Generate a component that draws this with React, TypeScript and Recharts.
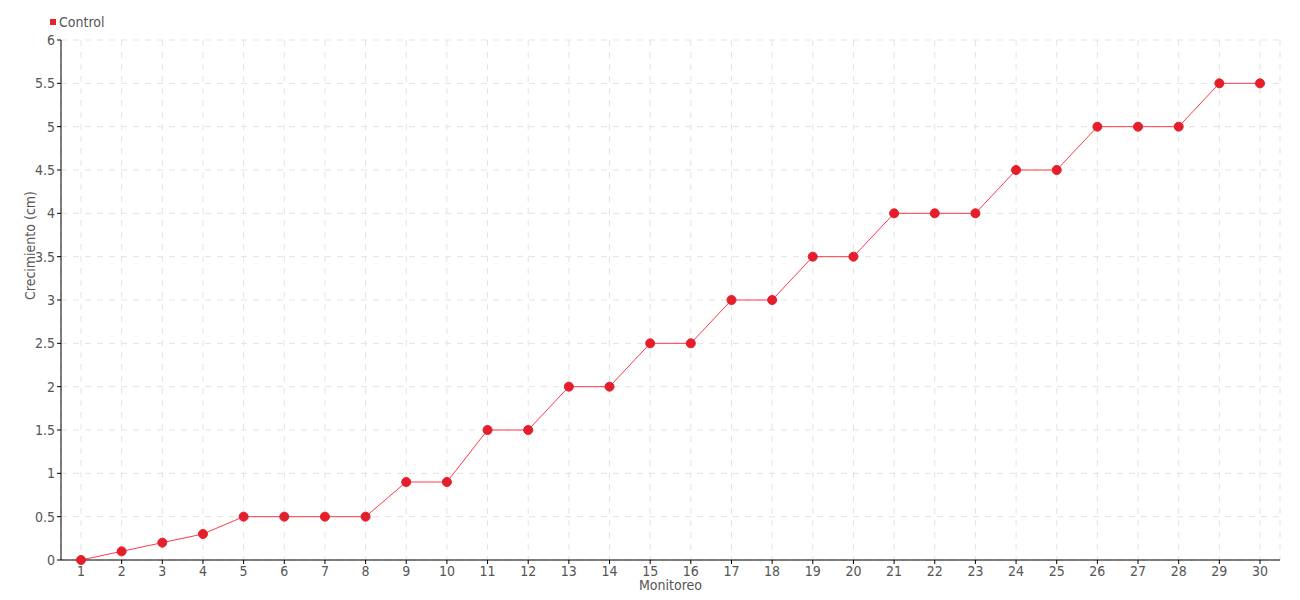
import { CartesianGrid, Legend, Line, LineChart, XAxis, YAxis } from "recharts";

const monitoreo = Array.from({ length: 30 }, (_, i) => String(i + 1));
const control = [
  0, 0.1, 0.2, 0.3, 0.5, 0.5, 0.5, 0.5, 0.9, 0.9, 1.5, 1.5, 2, 2, 2.5, 2.5, 3, 3, 3.5, 3.5, 4, 4, 4, 4.5, 4.5, 5,
  5, 5, 5.5, 5.5,
];
const yTicks = [0, 0.5, 1, 1.5, 2, 2.5, 3, 3.5, 4, 4.5, 5, 5.5, 6];

const data = monitoreo.map((m, i) => ({ m, control: control[i] }));

const font = "'DejaVu Sans Condensed', 'DejaVu Sans', sans-serif";
const textColor = "#555";
const textStyle = { fill: textColor, fontSize: 14, fontFamily: font, fontStretch: "condensed" as const };

function LegendBox() {
  return (
    <div
      style={{
        display: "flex",
        alignItems: "center",
        fontFamily: font,
        fontStretch: "condensed",
        fontSize: 14,
        color: textColor,
      }}
    >
      <span style={{ width: 6, height: 6, background: "#e8202c", marginRight: 3, display: "inline-block" }} />
      Control
    </div>
  );
}

export default function App() {
  return (
    <div style={{ width: 1284, height: 592 }}>
      <LineChart width={1284} height={592} data={data} margin={{ top: 12, right: 12, bottom: 0, left: 0 }}>
        <Legend verticalAlign="top" align="left" height={20} content={<LegendBox />} wrapperStyle={{ left: 42, top: 6 }} />
        <CartesianGrid stroke="#e3e3e3" strokeDasharray="6 6" />
        <XAxis
          dataKey="m"
          padding={{ left: 20, right: 20 }}
          axisLine={{ stroke: "#000" }}
          tickLine={{ stroke: "#000" }}
          tickSize={4}
          tick={textStyle}
          interval={0}
          height={40}
          label={{ value: "Monitoreo", position: "insideBottom", offset: 10, ...textStyle }}
        />
        <YAxis
          domain={[0, 6]}
          ticks={yTicks}
          interval={0}
          width={53}
          axisLine={{ stroke: "#000" }}
          tickLine={{ stroke: "#000" }}
          tickSize={4}
          tick={textStyle}
          label={{ value: "Crecimiento (cm)", angle: -90, position: "insideLeft", offset: 22, ...textStyle }}
        />
        <Line
          dataKey="control"
          name="Control"
          stroke="#ff3a4a"
          strokeWidth={1}
          dot={{ r: 4.5, fill: "#e41e2b", stroke: "#e41e2b", strokeWidth: 1 }}
          isAnimationActive={false}
        />
      </LineChart>
    </div>
  );
}
